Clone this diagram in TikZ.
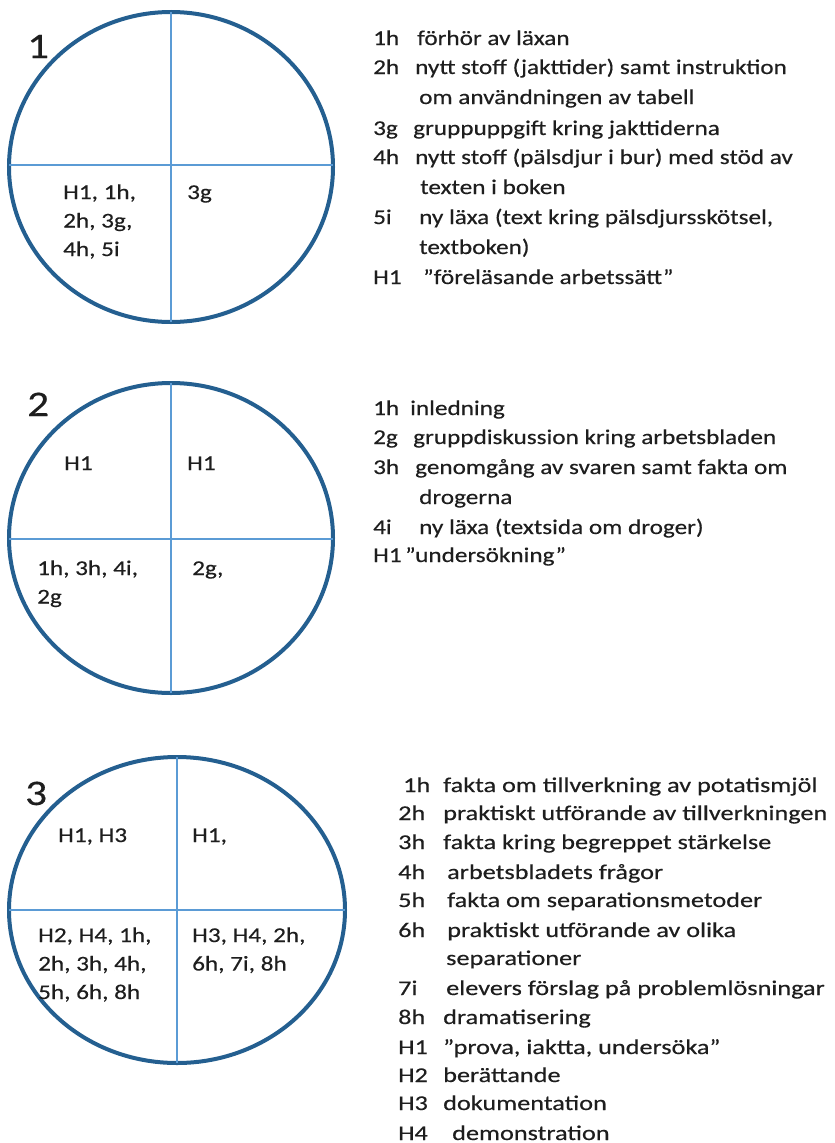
\documentclass[tikz,border=0pt]{standalone}
\usepackage{fontspec}
\setmainfont{Carlito}[FakeStretch=1.2, FakeBold=0.4]
\newfontfamily\widefont{Carlito}[FakeStretch=1.25, FakeBold=0.4]
\definecolor{ringblue}{HTML}{245F90}
\definecolor{crossblue}{HTML}{5B9BD5}
\definecolor{inkgray}{HTML}{1E1E1E}
\tikzset{
  ring/.style={draw=ringblue, line width=4pt},
  cross/.style={draw=crossblue, line width=1.8pt},
  num/.style={anchor=base west, inner sep=0pt, text=inkgray, font=\fontsize{36}{40}\selectfont},
  cell/.style={anchor=base west, inner sep=0pt, align=left, text=inkgray, font=\fontsize{21}{28.5}\selectfont},
  item/.style={anchor=base west, inner sep=0pt, text=inkgray, font=\fontsize{21}{25}\selectfont},
  item3/.style={item, font=\widefont\fontsize{21}{25}\selectfont},
}
\begin{document}
\begin{tikzpicture}[x=1pt,y=-1pt]
\useasboundingbox (0,0) rectangle (835,1143);
% circle 1
\draw[ring] (171,167) ellipse [x radius=162pt, y radius=155pt];
\draw[cross] (171,12) -- (171,322);
\draw[cross] (9,165) -- (333,165);
\node[num] (n1) at (27,58) {1};
\node[cell] (c1ll) at (63,256) {H1, 1h,\\2h, 3g,\\4h, 5i};
\node[cell] (c1lr) at (187,199) {3g};
% list 1
\node[item] (a1k) at (373,45) {1h};  \node[item] (a1t) at (417,45) {förhör av läxan};
\node[item] (a2k) at (373,74) {2h};  \node[item] (a2t) at (415,74) {nytt stoff (jakttider) samt instruktion};
\node[item] (a2u) at (419,104) {om användningen av tabell};
\node[item] (a3k) at (373,135) {3g}; \node[item] (a3t) at (413,135) {gruppuppgift kring jakttiderna};
\node[item] (a4k) at (373,164) {4h}; \node[item] (a4t) at (415,164) {nytt stoff (pälsdjur i bur) med stöd av};
\node[item] (a4u) at (420,194) {texten i boken};
\node[item] (a5k) at (373,224) {5i}; \node[item] (a5t) at (419,224) {ny läxa (text kring pälsdjursskötsel,};
\node[item] (a5u) at (419,254) {textboken)};
\node[item] (a6k) at (373,284) {H1}; \node[item] (a6t) at (423,284) {”föreläsande arbetssätt”};
% circle 2
\draw[ring] (171,538) ellipse [x radius=162pt, y radius=155pt];
\draw[cross] (171,383) -- (171,693);
\draw[cross] (9,539) -- (333,539);
\node[num] (n2) at (27,416) {2};
\node[cell] (c2ul) at (64,470) {H1};
\node[cell] (c2ur) at (187,470) {H1};
\node[cell] (c2ll) at (37,603.5) {1h, 3h, 4i,\\2g};
\node[cell] (c2lr) at (192,575) {2g,};
% list 2
\node[item] (b1k) at (373,415) {1h}; \node[item] (b1t) at (410,415) {inledning};
\node[item] (b2k) at (373,444) {2g}; \node[item] (b2t) at (413,444) {gruppdiskussion kring arbetsbladen};
\node[item] (b3k) at (373,474) {3h}; \node[item] (b3t) at (415,474) {genomgång av svaren samt fakta om};
\node[item] (b3u) at (419,504) {drogerna};
\node[item] (b4k) at (373,534) {4i}; \node[item] (b4t) at (419,534) {ny läxa (textsida om droger)};
\node[item] (b5k) at (373,562) {H1}; \node[item] (b5t) at (405,562) {”undersökning”};
% circle 3
\draw[ring] (177,910) ellipse [x radius=168pt, y radius=153pt];
\draw[cross] (177,757) -- (177,1063);
\draw[cross] (9,910) -- (345,910);
\node[num] (n3) at (25,805) {3};
\node[cell] (c3ul) at (58,842) {H1, H3};
\node[cell] (c3ur) at (192,842) {H1,};
\node[cell] (c3ll) at (38,999) {H2, H4, 1h,\\2h, 3h, 4h,\\5h, 6h, 8h};
\node[cell] (c3lr) at (192,970.5) {H3, H4, 2h,\\6h, 7i, 8h};
% list 3
\node[item3] (d1k) at (403,792) {1h};  \node[item3] (d1t) at (443,792) {fakta om tillverkning av potatismjöl};
\node[item3] (d2k) at (398,820) {2h};  \node[item3] (d2t) at (443,820) {praktiskt utförande av tillverkningen};
\node[item3] (d3k) at (398,849) {3h};  \node[item3] (d3t) at (443,849) {fakta kring begreppet stärkelse};
\node[item3] (d4k) at (398,879) {4h};  \node[item3] (d4t) at (447,879) {arbetsbladets frågor};
\node[item3] (d5k) at (398,907) {5h};  \node[item3] (d5t) at (447,907) {fakta om separationsmetoder};
\node[item3] (d6k) at (398,937) {6h};  \node[item3] (d6t) at (447,937) {praktiskt utförande av olika};
\node[item3] (d6u) at (446,965) {separationer};
\node[item3] (d7k) at (398,995) {7i};  \node[item3] (d7t) at (446,995) {elevers förslag på problemlösningar};
\node[item3] (d8k) at (398,1024) {8h}; \node[item3] (d8t) at (443,1024) {dramatisering};
\node[item3] (d9k) at (398,1054) {H1}; \node[item3] (d9t) at (443,1054) {”prova, iaktta, undersöka”};
\node[item3] (d10k) at (398,1082) {H2}; \node[item3] (d10t) at (443,1082) {berättande};
\node[item3] (d11k) at (398,1110) {H3}; \node[item3] (d11t) at (443,1110) {dokumentation};
\node[item3] (d12k) at (398,1140) {H4}; \node[item3] (d12t) at (452,1140) {demonstration};
\end{tikzpicture}
\end{document}
